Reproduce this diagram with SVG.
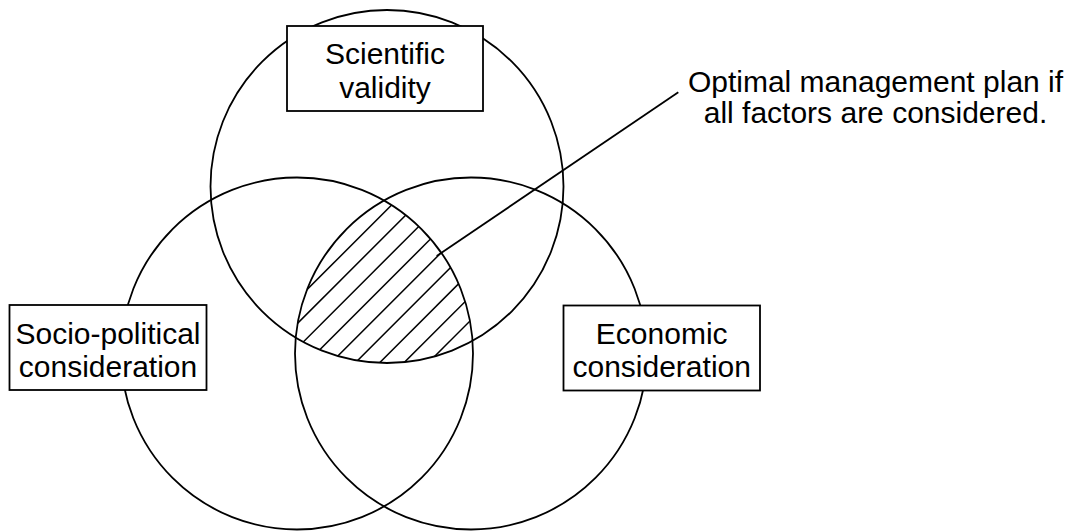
<svg xmlns="http://www.w3.org/2000/svg" width="1071" height="531" viewBox="0 0 1071 531">
<style>
.c{fill:none;stroke:#000;stroke-width:1.8}
.b{fill:#fff;stroke:#000;stroke-width:1.8}
.t{font-family:"Liberation Sans",Arial,Helvetica,sans-serif;font-size:30px;fill:#000;text-anchor:middle}
.h{stroke:#000;stroke-width:1.5}
</style>
<defs>
<clipPath id="cTop"><circle cx="387" cy="186.5" r="176.5"/></clipPath>
<clipPath id="cLeft"><circle cx="297" cy="353.5" r="176"/></clipPath>
<clipPath id="cRight"><circle cx="471" cy="353.5" r="176"/></clipPath>
</defs>
<rect width="1071" height="531" fill="#fff"/>
<g id="hatch" clip-path="url(#cTop)">
<g clip-path="url(#cLeft)">
<g clip-path="url(#cRight)" class="h">
<line x1="153.7" y1="370" x2="328.7" y2="195"/>
<line x1="178" y1="370" x2="353" y2="195"/>
<line x1="202.3" y1="370" x2="377.3" y2="195"/>
<line x1="226.6" y1="370" x2="401.6" y2="195"/>
<line x1="250.9" y1="370" x2="425.9" y2="195"/>
<line x1="275.2" y1="370" x2="450.2" y2="195"/>
<line x1="299.5" y1="370" x2="474.5" y2="195"/>
<line x1="323.8" y1="370" x2="498.8" y2="195"/>
<line x1="348.1" y1="370" x2="523.1" y2="195"/>
<line x1="372.4" y1="370" x2="547.4" y2="195"/>
<line x1="396.7" y1="370" x2="571.7" y2="195"/>
<line x1="421" y1="370" x2="596" y2="195"/>
<line x1="445.3" y1="370" x2="620.3" y2="195"/>
</g>
</g>
</g>
<g id="circle-top"><circle class="c" cx="387" cy="186.5" r="176.5"/></g>
<g id="circle-left"><circle class="c" cx="297" cy="353.5" r="176"/></g>
<g id="circle-right"><circle class="c" cx="471" cy="353.5" r="176"/></g>
<g id="connectors">
<line x1="436.7" y1="256" x2="678.3" y2="92.3" stroke="#000" stroke-width="1.8"/>
</g>
<g id="node-scientific">
<rect class="b" x="287" y="26" width="196" height="85"/>
<text class="t" x="385" y="64">Scientific</text>
<text class="t" x="385" y="98">validity</text>
</g>
<g id="node-socio">
<rect class="b" x="9.5" y="305" width="197" height="85"/>
<text class="t" x="108" y="344">Socio-political</text>
<text class="t" x="108" y="377">consideration</text>
</g>
<g id="node-economic">
<rect class="b" x="563.5" y="305.5" width="196.5" height="85"/>
<text class="t" x="661.7" y="343.5">Economic</text>
<text class="t" x="661.7" y="377">consideration</text>
</g>
<g id="node-optimal">
<text class="t" x="875.5" y="92">Optimal management plan if</text>
<text class="t" x="875.5" y="123">all factors are considered.</text>
</g>
</svg>
